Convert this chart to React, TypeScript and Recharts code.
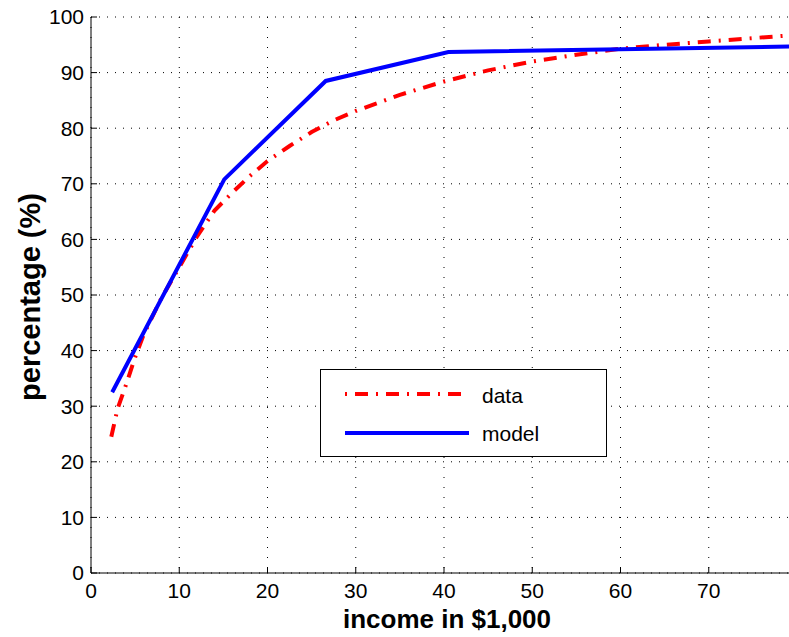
import React from 'react';
import { LineChart, Line, XAxis, YAxis, CartesianGrid, Label } from 'recharts';

// measured curve ("data") and fitted piecewise model
const dataIncome = [2.3, 3, 4, 5, 6, 8, 10, 12, 14, 16, 18, 20, 22.5, 25, 27.5, 30, 35, 40, 45, 50, 55, 60, 65, 70, 75, 80];
const dataPct = [24.5, 29.5, 34, 38.8, 43, 49.5, 55, 60.5, 65.2, 68.4, 71.4, 74.1, 76.8, 79.3, 81.4, 83.1, 86.0, 88.4, 90.4, 92, 93.2, 94.3, 95, 95.6, 96.2, 96.8];
const modelIncome = [2.4, 15.1, 26.6, 40.5, 80];
const modelPct = [32.5, 70.8, 88.5, 93.7, 94.7];

const xTicks = [0, 10, 20, 30, 40, 50, 60, 70];
const yTicks = [0, 10, 20, 30, 40, 50, 60, 70, 80, 90, 100];

const dataSeries = dataIncome.map((x, i) => ({ x, y: dataPct[i] }));
const modelSeries = modelIncome.map((x, i) => ({ x, y: modelPct[i] }));

const FONT = '"Liberation Sans", Arial, Helvetica, sans-serif';
const RED_DASH = '13 8 2 8';

// legend box sits over the plot like a MATLAB legend
const LegendBox = () => (
  <div style={{ position: 'absolute', left: 320, top: 369, width: 287, height: 88, border: '1px solid #000', background: '#fff', boxSizing: 'border-box' }}>
    <svg width={285} height={86} style={{ position: 'absolute', left: 0, top: 0 }}>
      <line x1={24} x2={141} y1={24} y2={24} stroke="#ff0000" strokeWidth={4} strokeDasharray={RED_DASH} strokeDashoffset={21} />
      <line x1={24} x2={148} y1={63} y2={63} stroke="#0000ff" strokeWidth={4} />
      <text x={161} y={33} fontSize={21} fontFamily={FONT} fill="#000">data</text>
      <text x={161} y={71} fontSize={21} fontFamily={FONT} fill="#000">model</text>
    </svg>
  </div>
);

export default function App() {
  return (
    <div style={{ position: 'absolute', left: 0, top: 0, width: 789, height: 637, overflow: 'hidden', background: '#fff' }}>
      <LineChart width={800} height={637} margin={{ top: 17, right: 3, left: 0, bottom: 0 }}>
        <CartesianGrid horizontal={true} vertical={false} stroke="#000" strokeDasharray="1 7" />
        <CartesianGrid horizontal={false} vertical={true} stroke="#000" strokeDasharray="1 9" />
        <XAxis
          dataKey="x"
          type="number"
          domain={[0, 80]}
          ticks={xTicks}
          allowDataOverflow
          height={64}
          stroke="#000"
          tickSize={-6}
          tickMargin={16}
          tick={{ fill: '#000', fontSize: 21, fontFamily: FONT }}
        >
          <Label
            content={() => (
              <text x={447} y={628} textAnchor="middle" fontSize={26} fontWeight="bold" fontFamily={FONT} fill="#000">
                income in $1,000
              </text>
            )}
          />
        </XAxis>
        <XAxis
          xAxisId="top"
          orientation="top"
          dataKey="x"
          type="number"
          domain={[0, 80]}
          ticks={xTicks}
          height={0}
          stroke="#000"
          tickSize={-6}
          tickFormatter={() => ''}
        />
        <YAxis
          type="number"
          domain={[0, 100]}
          ticks={yTicks}
          width={91}
          stroke="#000"
          tickSize={-6}
          tickMargin={13}
          tick={{ fill: '#000', fontSize: 21, fontFamily: FONT }}
        >
          <Label
            content={() => (
              <text x={40} y={297} transform="rotate(-90 40 297)" textAnchor="middle" fontSize={29} fontWeight="bold" fontFamily={FONT} fill="#000">
                percentage (%)
              </text>
            )}
          />
        </YAxis>
        <Line data={dataSeries} dataKey="y" name="data" stroke="#ff0000" strokeWidth={4} strokeDasharray={RED_DASH} dot={false} activeDot={false} isAnimationActive={false} />
        <Line data={modelSeries} dataKey="y" name="model" stroke="#0000ff" strokeWidth={4} dot={false} activeDot={false} isAnimationActive={false} />
      </LineChart>
      <LegendBox />
    </div>
  );
}
